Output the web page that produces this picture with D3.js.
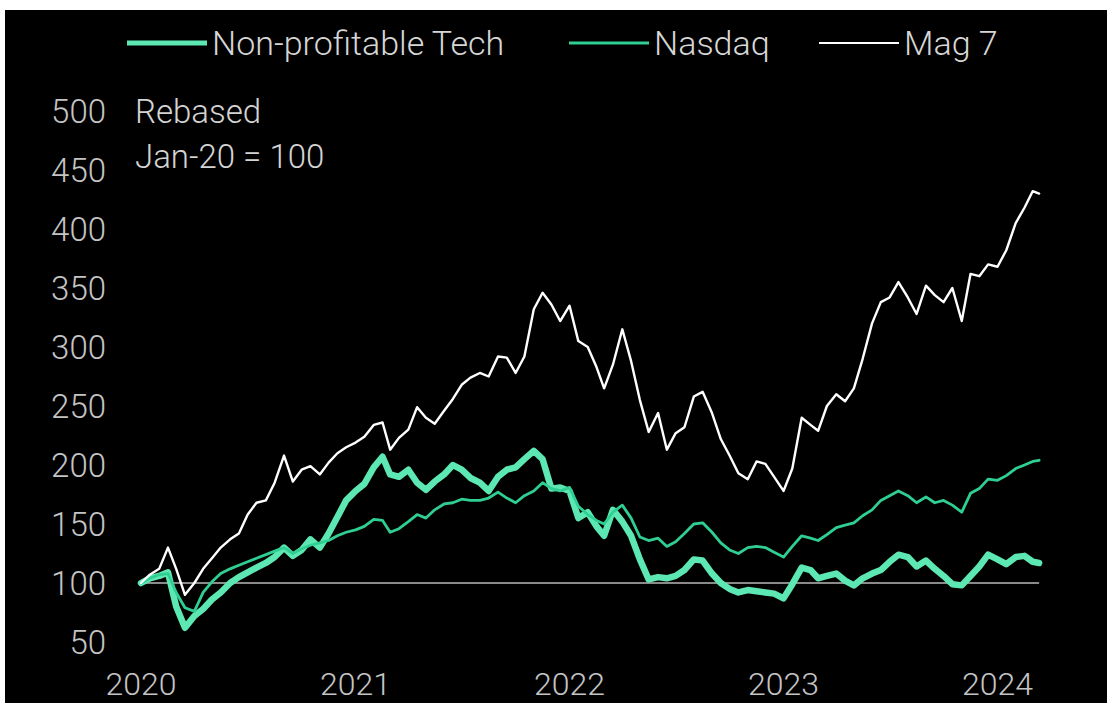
<!DOCTYPE html>
<html>
<head>
<meta charset="utf-8">
<script src="https://cdn.jsdelivr.net/npm/d3@7"></script>
<style>
  html, body { margin: 0; padding: 0; background: #fff; }
  svg { display: block; }
  text { font-family: Roboto, "Noto Sans", sans-serif; }
</style>
</head>
<body>
<div id="chart-area"></div>
<script>
const W = 1107
const H = 703

// semi-monthly observations, Jan 2020 -> Mar 2024
const dates = [
  "2020-01-01","2020-01-16","2020-02-01","2020-02-16","2020-03-01","2020-03-16","2020-04-01","2020-04-16",
  "2020-05-01","2020-05-16","2020-06-01","2020-06-16","2020-07-01","2020-07-16","2020-08-01","2020-08-16",
  "2020-09-01","2020-09-16","2020-10-01","2020-10-16","2020-11-01","2020-11-16","2020-12-01","2020-12-16",
  "2021-01-01","2021-01-16","2021-02-01","2021-02-16","2021-03-01","2021-03-16","2021-04-01","2021-04-16",
  "2021-05-01","2021-05-16","2021-06-01","2021-06-16","2021-07-01","2021-07-16","2021-08-01","2021-08-16",
  "2021-09-01","2021-09-16","2021-10-01","2021-10-16","2021-11-01","2021-11-16","2021-12-01","2021-12-16",
  "2022-01-01","2022-01-16","2022-02-01","2022-02-16","2022-03-01","2022-03-16","2022-04-01","2022-04-16",
  "2022-05-01","2022-05-16","2022-06-01","2022-06-16","2022-07-01","2022-07-16","2022-08-01","2022-08-16",
  "2022-09-01","2022-09-16","2022-10-01","2022-10-16","2022-11-01","2022-11-16","2022-12-01","2022-12-16",
  "2023-01-01","2023-01-16","2023-02-01","2023-02-16","2023-03-01","2023-03-16","2023-04-01","2023-04-16",
  "2023-05-01","2023-05-16","2023-06-01","2023-06-16","2023-07-01","2023-07-16","2023-08-01","2023-08-16",
  "2023-09-01","2023-09-16","2023-10-01","2023-10-16","2023-11-01","2023-11-16","2023-12-01","2023-12-16",
  "2024-01-01","2024-01-16","2024-02-01","2024-02-16","2024-03-01","2024-03-12"
]

const mag7 = [
  100,107,112,130,112,90,100,112,121,130,137,142,158,168,170,185,
  208,186,196,199,192,202,210,215,219,224,234,236,213,223,230,249,
  240,235,246,256,268,274,278,275,292,291,278,292,332,346,336,322,
  335,305,300,283,265,285,315,288,255,228,244,213,227,232,258,262,
  244,222,208,193,188,203,201,190,178,197,240,234,229,250,260,254,
  265,290,320,338,342,355,342,328,352,344,338,350,322,362,360,370,
  368,382,405,418,432,430
]

const nonProfTech = [
  100,104,106,109,80,62,72,78,86,92,100,105,109,113,117,122,
  130,123,128,137,130,142,156,170,178,184,198,207,192,190,196,185,
  179,186,192,200,196,189,185,178,190,196,198,205,212,205,180,181,
  178,155,160,148,140,162,152,140,120,103,105,104,106,111,120,119,
  108,100,95,92,94,93,92,91,87,99,113,111,104,106,108,102,
  98,104,108,111,118,124,122,114,119,112,106,99,98,106,114,124,
  120,116,122,123,118,117
]

const nasdaq = [
  100,104,107,108,92,79,76,92,101,108,112,115,118,121,124,127,
  130,125,129,132,134,136,140,143,145,148,154,153,143,146,152,158,
  155,162,167,168,171,170,170,172,177,172,168,174,178,185,180,178,
  181,165,158,153,150,160,166,155,139,136,138,131,135,142,150,151,
  143,134,128,125,130,131,130,126,122,131,140,138,136,141,147,149,
  151,157,162,170,174,178,174,168,173,168,170,166,160,176,180,188,
  187,191,197,200,203,204
]

const yTicks = [50, 100, 150, 200, 250, 300, 350, 400, 450, 500]
const xTicks = ["2020-01-01", "2021-01-01", "2022-01-01", "2023-01-01", "2024-01-01"]

const parse = d3.timeParse("%Y-%m-%d")

const series = [
  { name: "Non-profitable Tech", values: nonProfTech, color: "#5de8b3", width: 6.5, legendW: 5 },
  { name: "Nasdaq", values: nasdaq, color: "#2fcf93", width: 2.8, legendW: 3 },
  { name: "Mag 7", values: mag7, color: "#ffffff", width: 2.4, legendW: 2 }
]

const svg = d3.select("#chart-area")
  .append("svg")
    .attr("width", W)
    .attr("height", H)

// black panel (white strip on top and left like the screenshot)
svg.append("rect")
  .attr("x", 5)
  .attr("y", 10)
  .attr("width", W - 5)
  .attr("height", H - 10)
  .attr("fill", "#000")

// scales
const x = d3.scaleTime()
  .domain([parse("2020-01-01"), parse("2024-01-01")])
  .range([141, 997.5])

const y = d3.scaleLinear()
  .domain([100, 500])
  .range([583, 111])

// y tick labels
svg.append("g")
  .selectAll("text")
  .data(yTicks)
  .enter().append("text")
    .attr("x", 106)
    .attr("y", d => y(d))
    .attr("dy", "0.36em")
    .attr("text-anchor", "end")
    .attr("font-size", "33px")
    .attr("font-weight", 300)
    .attr("fill", "#c4c4c4")
    .text(d => d)

// x tick labels
svg.append("g")
  .selectAll("text")
  .data(xTicks)
  .enter().append("text")
    .attr("x", d => x(parse(d)))
    .attr("y", 695)
    .attr("text-anchor", "middle")
    .attr("font-size", "32px")
    .attr("font-weight", 300)
    .attr("fill", "#c4c4c4")
    .text(d => d.slice(0, 4))

// note
svg.append("text")
  .attr("x", 135)
  .attr("y", 123)
  .attr("font-size", "33px")
  .attr("font-weight", 300)
  .attr("fill", "#d4d4d4")
  .text("Rebased")
svg.append("text")
  .attr("x", 135)
  .attr("y", 168)
  .attr("font-size", "33px")
  .attr("font-weight", 300)
  .attr("fill", "#d4d4d4")
  .text("Jan-20 = 100")

// baseline at 100
const first = parse(dates[0])
const last = parse(dates[dates.length - 1])
svg.append("line")
  .attr("x1", x(first))
  .attr("x2", x(last))
  .attr("y1", y(100))
  .attr("y2", y(100))
  .attr("stroke", "#8a8a8a")
  .attr("stroke-width", 2)

// lines
const line = d3.line()
  .x((d, i) => x(parse(dates[i])))
  .y(d => y(d))

series.forEach(s => {
  svg.append("path")
    .datum(s.values)
    .attr("fill", "none")
    .attr("stroke", s.color)
    .attr("stroke-width", s.width)
    .attr("stroke-linejoin", "round")
    .attr("stroke-linecap", "round")
    .attr("d", line)
})

// legend
const legendX = [127, 569, 819]
const legend = svg.append("g")
series.forEach((s, i) => {
  legend.append("line")
    .attr("x1", legendX[i])
    .attr("x2", legendX[i] + 80)
    .attr("y1", 43)
    .attr("y2", 43)
    .attr("stroke", s.color)
    .attr("stroke-width", s.legendW)
  legend.append("text")
    .attr("x", legendX[i] + 85)
    .attr("y", 55)
    .attr("font-size", "34px")
    .attr("font-weight", 300)
    .attr("fill", "#d6d6d6")
    .text(s.name)
})
</script>
</body>
</html>
